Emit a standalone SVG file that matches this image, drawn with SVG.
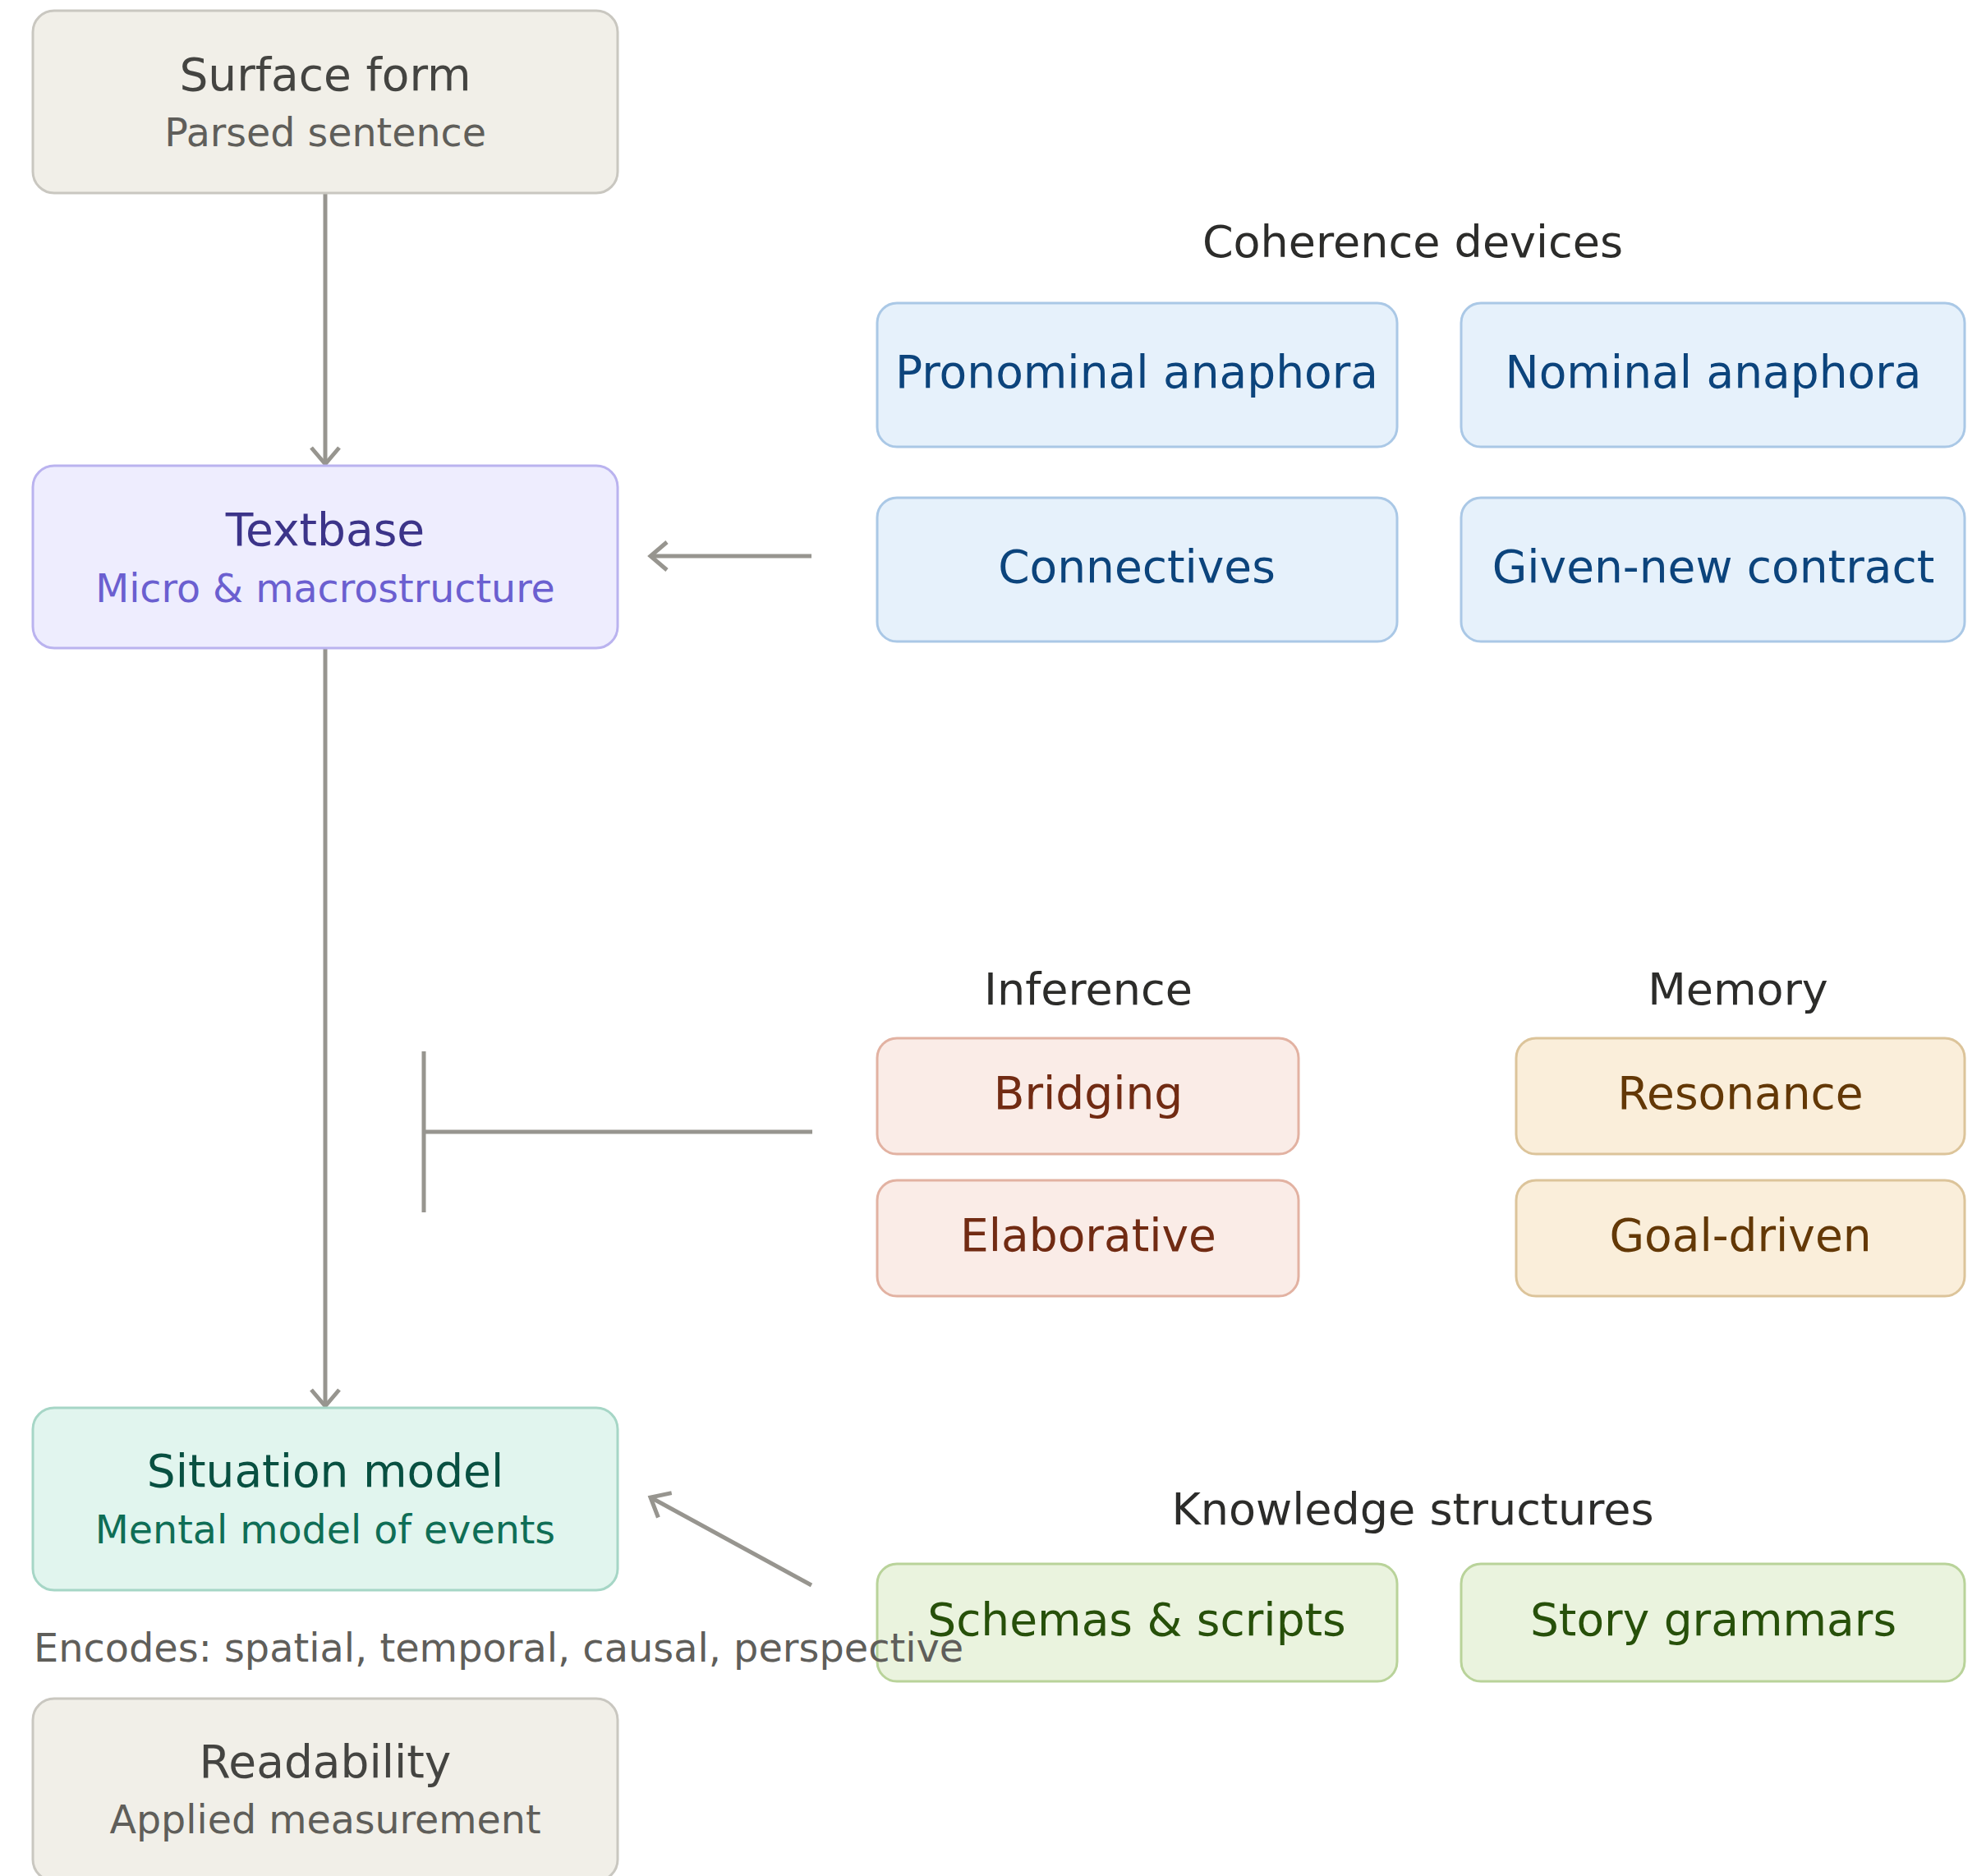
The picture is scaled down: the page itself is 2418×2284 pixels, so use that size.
<svg xmlns="http://www.w3.org/2000/svg" width="2418" height="2284" viewBox="0 0 2418 2284">
<style>
text{font-family:"DejaVu Sans","Liberation Sans",sans-serif;text-anchor:middle}
.t{font-size:55px}
.s{font-size:47.5px}
.g{font-size:54px;fill:#2c2c2a}
.box{stroke-width:3}
.gray rect{fill:#f1efe8;stroke:#c9c7c0}
.gray .t{fill:#444441}.gray .s{fill:#5f5e5a}
.purple rect{fill:#eeedfe;stroke:#bab3ef}
.purple .t{fill:#3c3489}.purple .s{fill:#6b5fd0}
.teal rect{fill:#e1f5ee;stroke:#a6d6c6}
.teal .t{fill:#085041}.teal .s{fill:#0f6e56}
.blue rect{fill:#e6f1fb;stroke:#aac8e6}
.blue text{fill:#0c447c}
.red rect{fill:#faece7;stroke:#e2b2a2}
.red text{fill:#712b13}
.amber rect{fill:#faeeda;stroke:#dcc49a}
.amber text{fill:#633806}
.green rect{fill:#eaf3de;stroke:#b9d39a}
.green text{fill:#27500a}
.conn{stroke:#97958f;stroke-width:5;fill:none}
</style>
<defs>
<marker id="arr" viewBox="-26 -22 30 44" refX="0" refY="0" markerWidth="30" markerHeight="44" markerUnits="userSpaceOnUse" orient="auto">
<path d="M-20,-17 L0,0 L-20,17" fill="none" stroke="#97958f" stroke-width="5"/>
</marker>
</defs>

<g id="connectors">
<line class="conn" x1="396" y1="235" x2="396" y2="565" marker-end="url(#arr)"/>
<line class="conn" x1="396" y1="790" x2="396" y2="1712" marker-end="url(#arr)"/>
<line class="conn" x1="988" y1="677" x2="792" y2="677" marker-end="url(#arr)"/>
<line class="conn" x1="989" y1="1378" x2="516" y2="1378"/>
<line class="conn" x1="516" y1="1280" x2="516" y2="1476"/>
<line class="conn" x1="988" y1="1930" x2="792" y2="1823" marker-end="url(#arr)"/>
</g>

<g id="surface-form" class="gray">
<rect class="box" x="40" y="13" width="712" height="222" rx="26"/>
<text class="t" x="396" y="110">Surface form</text>
<text class="s" x="396" y="178">Parsed sentence</text>
</g>

<g id="textbase" class="purple">
<rect class="box" x="40" y="567" width="712" height="222" rx="26"/>
<text class="t" x="396" y="664">Textbase</text>
<text class="s" x="396" y="733">Micro &amp; macrostructure</text>
</g>

<g id="situation-model" class="teal">
<rect class="box" x="40" y="1714" width="712" height="222" rx="26"/>
<text class="t" x="396" y="1810">Situation model</text>
<text class="s" x="396" y="1879">Mental model of events</text>
</g>

<g id="readability" class="gray">
<rect class="box" x="40" y="2068" width="712" height="222" rx="26"/>
<text class="t" x="396" y="2164">Readability</text>
<text class="s" x="396" y="2232">Applied measurement</text>
</g>

<g id="coherence-label"><text class="g" x="1720" y="313">Coherence devices</text></g>
<g id="pronominal-anaphora" class="blue">
<rect class="box" x="1068" y="369" width="633" height="175" rx="24"/>
<text class="t" x="1384" y="472">Pronominal anaphora</text>
</g>
<g id="nominal-anaphora" class="blue">
<rect class="box" x="1779" y="369" width="613" height="175" rx="24"/>
<text class="t" x="2086" y="472">Nominal anaphora</text>
</g>
<g id="connectives" class="blue">
<rect class="box" x="1068" y="606" width="633" height="175" rx="24"/>
<text class="t" x="1384" y="709">Connectives</text>
</g>
<g id="given-new-contract" class="blue">
<rect class="box" x="1779" y="606" width="613" height="175" rx="24"/>
<text class="t" x="2086" y="709">Given-new contract</text>
</g>

<g id="inference-label"><text class="g" x="1325" y="1223">Inference</text></g>
<g id="memory-label"><text class="g" x="2116" y="1223">Memory</text></g>
<g id="bridging" class="red">
<rect class="box" x="1068" y="1264" width="513" height="141" rx="24"/>
<text class="t" x="1325" y="1350">Bridging</text>
</g>
<g id="elaborative" class="red">
<rect class="box" x="1068" y="1437" width="513" height="141" rx="24"/>
<text class="t" x="1325" y="1523">Elaborative</text>
</g>
<g id="resonance" class="amber">
<rect class="box" x="1846" y="1264" width="546" height="141" rx="24"/>
<text class="t" x="2119" y="1350">Resonance</text>
</g>
<g id="goal-driven" class="amber">
<rect class="box" x="1846" y="1437" width="546" height="141" rx="24"/>
<text class="t" x="2119" y="1523">Goal-driven</text>
</g>

<g id="knowledge-label"><text class="g" x="1720" y="1856">Knowledge structures</text></g>
<g id="schemas-scripts" class="green">
<rect class="box" x="1068" y="1904" width="633" height="143" rx="24"/>
<text class="t" x="1384" y="1991">Schemas &amp; scripts</text>
</g>
<g id="story-grammars" class="green">
<rect class="box" x="1779" y="1904" width="613" height="143" rx="24"/>
<text class="t" x="2086" y="1991">Story grammars</text>
</g>

<g id="encodes-note">
<text x="41" y="2023" style="text-anchor:start;font-size:47.8px;fill:#5f5e5a">Encodes: spatial, temporal, causal, perspective</text>
</g>
</svg>
